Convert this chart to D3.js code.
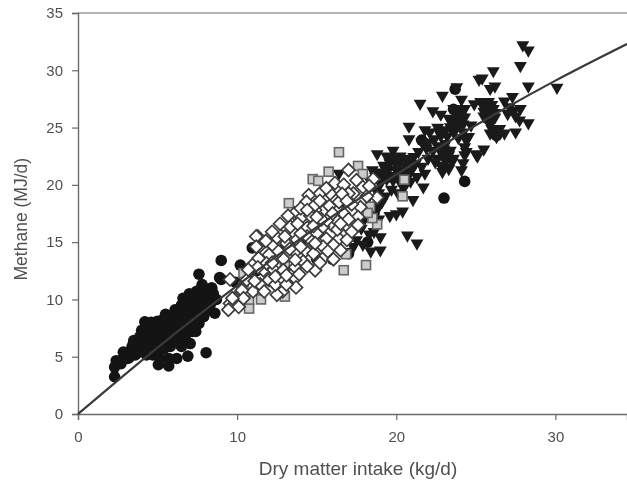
<!DOCTYPE html>
<html>
<head>
<meta charset="utf-8">
<script src="https://d3js.org/d3.v7.min.js"></script>
<style>
  html, body { margin: 0; padding: 0; background: #fff; }
  svg { display: block; filter: blur(0.4px); }
  text { font-family: "Liberation Sans", Arial, sans-serif; fill: #505050; }
</style>
</head>
<body>
<div id="chart-container"></div>
<script>
// Values, [dry matter intake, methane]
const circles = [
  [2.3,3.25],[2.3,4.1],[2.4,4.65],[2.85,5.4],[3.4,5.9],[3.8,6.3],[4.0,7.3],[4.2,8.05],[4.5,7.75],[3.1,4.85],
  [3.6,5.15],[4.0,5.6],[4.3,5.15],[4.7,5.15],[5.05,4.3],[5.7,4.2],[5.15,4.85],[5.7,4.85],[6.2,4.85],[6.5,5.9],
  [6.9,5.05],[7.05,6.15],[8.05,5.35],[5.5,8.7],[6.1,9.1],[6.6,10.1],[7.45,10.7],[7.8,11.3],[7.6,12.2],[8.4,11.0],
  [9.0,13.4],[9.0,11.75],[8.7,10.0],[8.6,8.8],[7.9,8.5],[7.4,7.2],[6.4,6.9],[2.7,4.4],[3.0,5.0],[3.3,5.5],
  [3.5,6.4],[3.9,6.8],[4.3,6.5],[4.6,6.9],[4.9,7.3],[5.2,7.6],[5.5,7.9],[4.4,5.9],[4.8,6.2],[5.1,6.6],
  [5.4,6.9],[5.7,7.1],[6.0,7.5],[6.3,7.8],[5.0,5.6],[5.4,5.7],[5.8,5.9],[6.1,6.3],[6.6,7.2],[6.8,7.7],
  [6.5,8.4],[6.2,8.7],[6.9,8.9],[7.2,8.3],[7.5,8.8],[7.0,9.4],[6.5,9.5],[7.3,9.7],[7.7,9.4],[7.9,9.9],
  [7.2,10.3],[6.9,10.0],[8.2,10.2],[8.5,10.5],[7.6,7.9],[7.1,7.6],[4.6,8.0],[5.0,8.1],[5.8,8.4],[4.2,6.1],
  [8.9,11.9],[8.4,11.0],[10.2,13.0],[10.95,14.5],[9.9,11.5],[10.6,12.2],[11.2,12.5],[12.0,13.5],[13.0,14.5],[14.0,15.0],
  [15.0,16.0],[16.0,17.0],[16.5,18.5],[17.0,14.0],[16.0,13.5],[15.0,13.5],[21.6,23.9],[23.7,28.35],[24.3,20.3],[23.0,18.85],
  [26.3,24.3],[23.6,26.6],[18.2,15.0],[18.6,17.5],
  [3.2,4.9],[3.5,5.6],[3.7,5.9],[4.0,6.3],[4.2,7.0],[4.5,7.2],[4.7,7.6],[5.0,7.7],[5.3,8.2],[4.5,6.4],
  [4.7,6.6],[5.0,6.9],[5.3,7.2],[5.6,7.5],[5.9,7.9],[6.2,8.2],[5.1,6.1],[5.4,6.3],[5.7,6.6],[6.0,6.9],
  [6.3,7.3],[6.6,7.7],[6.9,8.2],[7.2,8.8],[6.7,9.0],[7.0,9.9],[7.4,9.2],[7.6,9.9],[7.4,10.2],[7.9,10.4],
  [8.1,9.8],[8.3,9.5],[7.8,9.0],[7.6,8.4],[7.4,8.0],[7.2,7.2],[6.9,7.1],[6.7,6.6],[6.3,6.3],[3.8,5.4],
  [4.1,5.9],[4.6,5.5],[3.3,5.1],[2.8,4.8],[6.0,8.0],[6.4,9.0],[7.0,10.5],[6.8,9.5],[7.7,10.9],[8.0,8.9]
];
const triangles = [
  [27.95,32.2],[28.3,31.75],[27.8,30.4],[26.1,29.95],[25.2,29.2],[25.4,29.3],[23.8,28.55],[28.3,28.6],[26.2,28.6],[25.9,28.4],
  [22.9,27.8],[21.5,27.1],[24.1,27.45],[27.3,27.7],[26.8,27.3],[25.3,27.25],[24.9,27.05],[22.3,26.45],[22.8,26.15],[23.6,26.65],
  [24.0,26.5],[24.3,26.65],[25.8,27.25],[25.6,26.65],[26.1,26.65],[27.8,26.65],[27.1,26.8],[27.4,26.5],[20.8,25.1],[27.75,25.65],
  [28.3,25.4],[21.8,24.8],[22.6,25.0],[22.1,24.6],[22.7,24.6],[23.4,25.05],[24.0,25.35],[24.7,25.2],[20.8,24.0],[21.6,23.75],
  [23.2,24.25],[24.2,24.6],[24.55,24.2],[26.2,24.9],[26.8,24.5],[27.5,24.6],[26.3,24.2],[18.8,22.7],[19.8,23.0],[19.4,22.5],
  [20.25,22.5],[21.1,22.45],[25.5,23.1],[25.0,22.7],[25.1,22.5],[24.3,23.3],[24.3,22.6],[23.4,23.0],[22.8,22.9],[22.0,22.3],
  [22.45,22.0],[19.2,21.7],[19.95,22.0],[20.7,22.0],[21.2,21.85],[23.0,21.55],[23.5,22.0],[21.8,21.0],[24.1,21.3],[22.9,21.15],
  [19.5,21.3],[20.0,21.3],[20.9,21.15],[21.3,20.7],[21.7,19.8],[19.0,20.1],[19.8,20.4],[20.5,19.8],[21.05,18.7],[20.4,17.7],
  [20.0,17.45],[19.6,17.3],[18.9,18.1],[19.0,15.45],[20.7,15.6],[21.3,14.9],[17.3,14.6],[17.9,14.8],[18.4,14.2],[19.0,14.3],
  [16.4,21.0],[30.1,28.5],[23.3,25.8],[23.7,25.6],[24.1,25.9],[23.6,24.6],[23.9,24.1],[25.5,26.0],[25.9,26.1],[26.2,25.9],
  [25.8,25.6],[19.6,21.9],[20.3,21.2],[20.6,21.6],[19.1,20.9],[20.2,20.6],[20.9,20.3],[19.4,20.5],[18.7,20.7],[18.4,20.2],
  [22.6,23.4],[23.1,23.6],[23.0,22.4],[22.6,22.3],[21.4,22.9],[21.9,23.2],[24.4,24.0],[25.9,24.5],[18.9,19.3],[19.3,19.0],
  [19.8,22.3],[20.2,22.0],[20.6,22.3],[21.0,21.8],[19.6,20.8],[18.9,21.1],[18.5,21.3],[19.3,21.4],[20.7,21.0],[20.1,19.3],
  [19.7,19.6],[23.7,26.2],[24.1,26.2],[23.9,25.6],[24.2,25.3],[23.5,25.4],[23.8,25.0],[24.3,25.9],[23.1,24.8],[22.8,24.3],
  [22.4,24.0],[25.7,27.0],[26.0,27.0],[25.5,26.4],[25.8,26.4],[26.2,26.3],[25.6,25.9],[25.9,25.3],[26.0,24.9],[26.5,24.9],
  [23.0,23.1],[23.3,22.6],[23.6,22.3],[23.1,22.1],[22.8,21.7],[23.3,21.4],[24.4,23.9],[24.4,22.9],[24.2,21.9],[27.0,26.2],
  [27.5,26.0],[22.0,23.7],[22.3,23.0],[21.6,21.6],[20.5,20.7],[20.3,20.1],
  [17.8,16.2],[18.3,15.7],[18.0,17.0],[18.6,15.9],[17.5,15.2],[18.9,17.0],[18.2,18.8],[18.7,19.6],[19.1,18.5]
];
const squares = [
  [16.4,22.85],[15.75,21.15],[14.75,20.5],[15.1,20.35],[17.6,21.65],[17.9,20.95],[13.25,18.4],[18.8,16.55],[16.85,13.95],[18.1,13.0],
  [16.7,12.55],[11.5,10.0],[10.75,9.9],[10.75,9.2],[10.4,12.3],[12.85,12.0],[13.0,10.25],[10.4,11.1],[18.35,18.1],[18.5,17.1],
  [20.5,20.45],[20.4,19.0],[18.2,17.55],[13.0,12.9],[13.2,13.8],[12.85,11.2]
];
const diamonds = [
  [11.3,15.5],[11.35,14.55],[12.25,14.7],[12.5,15.4],[13.15,16.1],[13.6,17.5],[14.05,17.15],[14.5,19.1],[14.35,18.5],[15.4,17.7],
  [15.8,18.15],[15.85,19.25],[16.4,18.5],[16.15,20.15],[16.7,20.0],[17.0,21.3],[17.5,20.4],[17.3,19.25],[18.55,20.5],[18.8,18.9],
  [17.75,18.05],[17.6,17.2],[16.9,16.4],[17.2,15.9],[16.4,15.3],[15.6,15.3],[15.0,15.75],[14.4,16.25],[14.9,17.8],[13.1,14.9],
  [13.75,15.2],[14.4,15.5],[12.0,13.9],[11.0,13.05],[11.65,12.55],[12.3,12.6],[12.9,13.55],[13.65,14.15],[14.3,14.25],[14.8,14.0],
  [15.55,13.8],[16.05,13.5],[14.9,12.55],[14.15,13.3],[13.65,12.8],[13.65,11.85],[13.7,11.05],[12.85,10.7],[12.5,10.4],[11.45,11.3],
  [11.0,10.7],[10.6,11.7],[9.55,11.75],[9.85,10.1],[10.3,10.8],[9.55,9.65],[10.1,9.35],[12.0,11.7],[12.8,11.7],[15.95,16.5],
  [15.4,16.35],[16.7,17.5],[18.15,19.0],[17.0,19.25],[16.25,16.9],[15.65,16.9],[14.7,15.05],[14.0,15.75],[13.35,16.35],[16.05,14.75],
  [15.4,14.6],[16.9,15.2],[14.9,14.9],[13.65,13.45],[12.9,12.55],[11.85,13.15],[11.35,13.6],[10.4,10.1],[15.2,19.25],[14.9,18.25],
  [14.0,17.95],[9.45,9.1],[9.7,10.1],[11.2,15.5],[11.2,14.6],
  [13.2,17.3],[12.7,16.6],[13.8,16.6],[14.6,17.3],[15.2,18.6],[15.6,19.7],[16.6,19.2],[17.2,18.3],[17.9,19.8],[18.3,19.9],
  [16.0,17.5],[16.9,18.6],[15.3,17.0],[14.4,17.8],[13.0,15.5],[12.2,15.9],[11.8,15.1],[11.3,12.8],[12.2,13.2],[12.6,14.2],
  [13.3,14.4],[14.0,14.6],[13.9,12.2],[14.4,12.9],[15.2,13.2],[15.7,14.2],[16.5,14.3],[16.3,16.1],[17.0,17.0],[17.6,16.5],
  [12.4,11.3],[13.1,11.3],[12.4,12.0],[11.7,10.7],[11.1,11.6],[10.7,12.6],[13.1,12.1],[14.8,16.4],[15.0,17.2],[16.5,16.6]
];
const lineValues = [[0,0],[5,5.8],[10,11.2],[15,16.3],[20,20.9],[25,25.2],[30,29.1],[34.5,32.3]];
const xTicks = [0,10,20,30];
const yTicks = [0,5,10,15,20,25,30,35];

const margin = { top: 13, right: 0, bottom: 67, left: 78 };
const width = 627 - margin.left - margin.right;
const height = 481 - margin.top - margin.bottom;

const x = d3.scaleLinear().domain([0, 34.5]).range([0, width]);
const y = d3.scaleLinear().domain([0, 35]).range([height, 0]);

const svg = d3.select("#chart-container")
  .append("svg")
  .attr("width", 627)
  .attr("height", 481)
  .append("g")
  .attr("transform", `translate(${margin.left},${margin.top})`);

// Axes
const axisColor = "#6a6a6a";
svg.append("line")
  .attr("x1", 0).attr("x2", width)
  .attr("y1", y(35)).attr("y2", y(35))
  .attr("stroke", axisColor);

const xAxis = svg.append("g")
  .attr("transform", `translate(0,${height})`)
  .style("font-size", "15px")
  .call(d3.axisBottom(x).tickValues(xTicks).tickSize(6).tickPadding(11));
const yAxis = svg.append("g")
  .style("font-size", "15px")
  .call(d3.axisLeft(y).tickValues(yTicks).tickSize(6).tickPadding(9));
[xAxis, yAxis].forEach(a => {
  a.attr("font-family", null);
  a.selectAll(".domain").attr("stroke", axisColor).attr("stroke-width", 1.4);
  a.selectAll(".tick line").attr("stroke", axisColor).attr("stroke-width", 1.2);
});

svg.append("text")
  .attr("x", 280)
  .attr("y", height + 61)
  .attr("text-anchor", "middle")
  .style("font-size", "19px")
  .text("Dry matter intake (kg/d)");
svg.append("text")
  .attr("transform", `translate(-51,${y(17)}) rotate(-90)`)
  .attr("text-anchor", "middle")
  .style("font-size", "17.5px")
  .text("Methane (MJ/d)");

// Markers
const tri = d3.symbol().type(d3.symbolTriangle).size(72);
const sq = d3.symbol().type(d3.symbolSquare).size(84);

svg.append("g").selectAll("circle").data(circles).join("circle")
  .attr("cx", d => x(d[0])).attr("cy", d => y(d[1]))
  .attr("r", 5.8)
  .attr("fill", "#141414");

svg.append("g").selectAll("path").data(triangles).join("path")
  .attr("d", tri)
  .attr("transform", d => `translate(${x(d[0])},${y(d[1])}) rotate(180)`)
  .attr("fill", "#1a1a1a");

svg.append("g").selectAll("rect").data(squares).join("rect")
  .attr("x", d => x(d[0]) - 4.5).attr("y", d => y(d[1]) - 4.5)
  .attr("width", 9).attr("height", 9)
  .attr("fill", "#ccc")
  .attr("stroke", "#666")
  .attr("stroke-width", 1.6);

svg.append("g").selectAll("path").data(diamonds).join("path")
  .attr("d", sq)
  .attr("transform", d => `translate(${x(d[0])},${y(d[1])}) rotate(45)`)
  .attr("fill", "#fff")
  .attr("stroke", "#3c3c3c")
  .attr("stroke-width", 1.7);

// Fitted line
svg.append("path")
  .datum(lineValues)
  .attr("fill", "none")
  .attr("stroke", "#3a3a3a")
  .attr("stroke-width", 2.2)
  .attr("d", d3.line().curve(d3.curveMonotoneX).x(d => x(d[0])).y(d => y(d[1])));
</script>
</body>
</html>
